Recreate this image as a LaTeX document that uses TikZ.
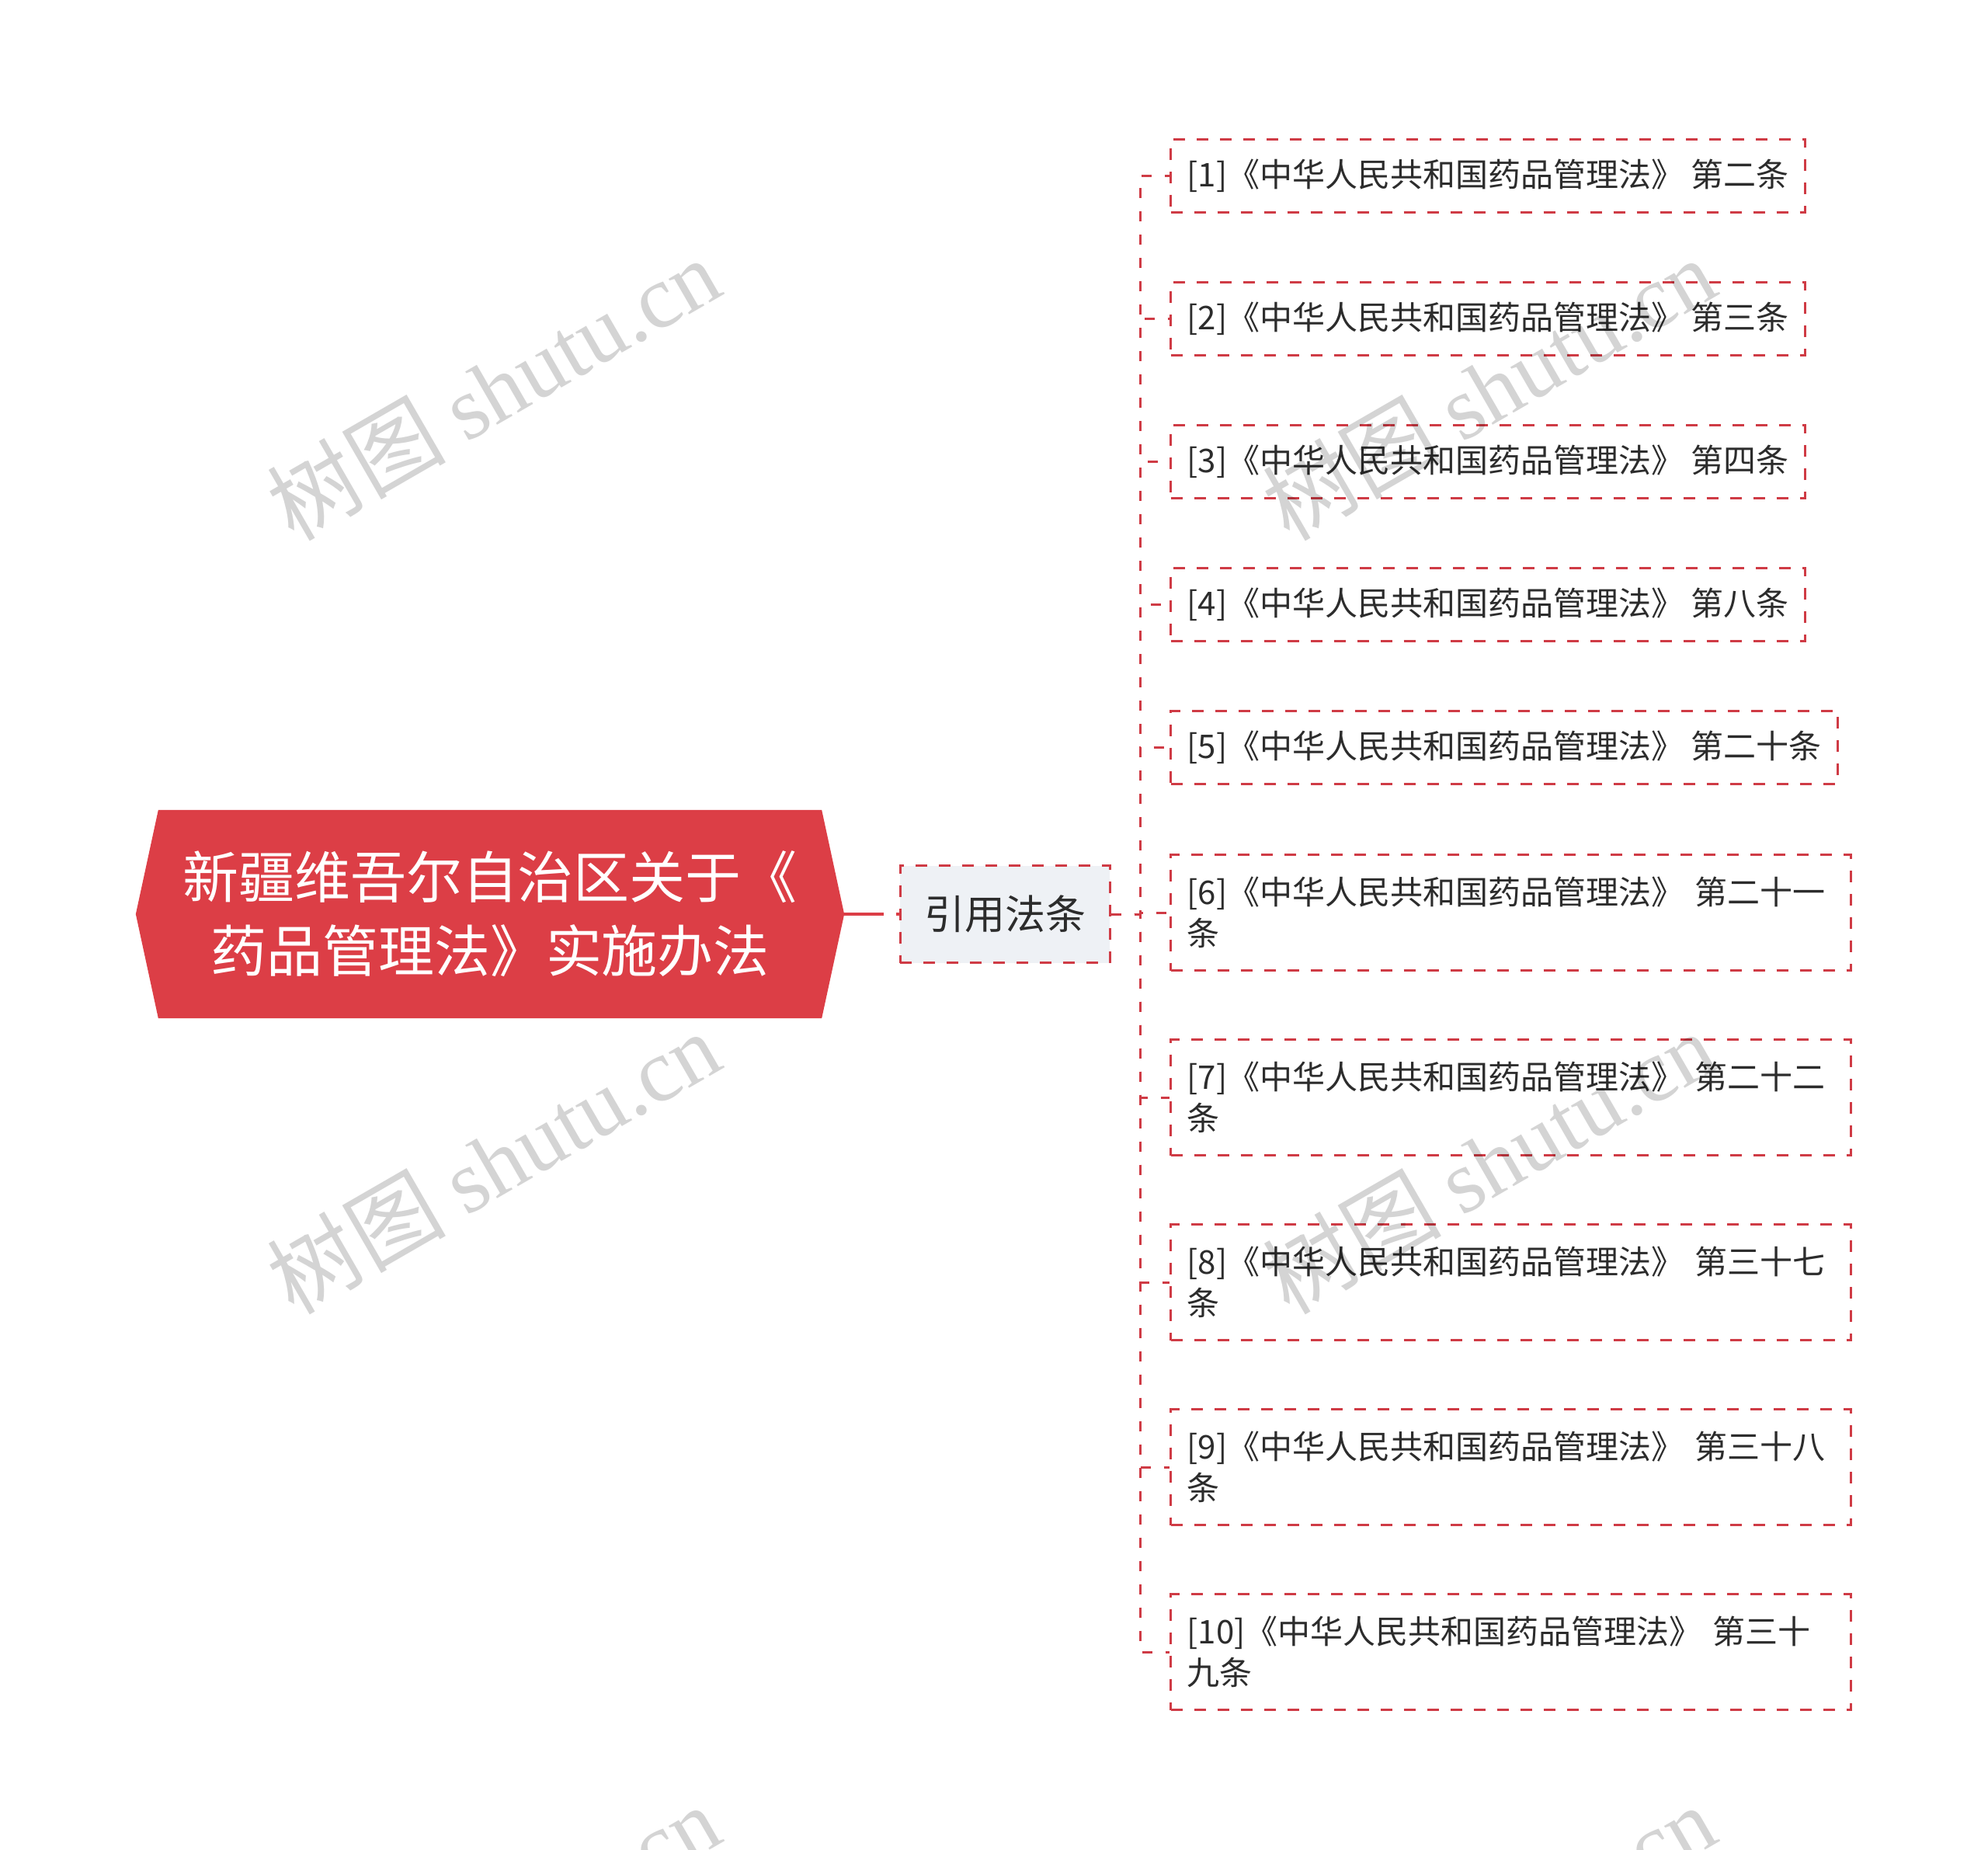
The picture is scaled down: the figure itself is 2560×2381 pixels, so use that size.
\documentclass[tikz,border=0pt]{standalone}
\usepackage{fontspec}
\setmainfont{Noto Sans CJK SC}
\newfontfamily\wmserif{Liberation Serif}
\usetikzlibrary{backgrounds}

\definecolor{rootred}{HTML}{DC3E46}
\definecolor{dashred}{HTML}{CF3B45}
\definecolor{citegray}{HTML}{EEF1F5}
\definecolor{inkdark}{HTML}{2C2C2C}

\tikzset{
  rootbox/.style={align=center, text=white, inner sep=0pt, minimum width=255.9pt, minimum height=80.1pt, font=\fontsize{21.6pt}{28.5pt}\selectfont},
  citebox/.style={draw=dashred, fill=citegray, line width=0.9pt, dash pattern=on 4.5pt off 4.5pt, text=inkdark, minimum width=81pt, minimum height=37.5pt, inner sep=0pt, font=\fontsize{15.6pt}{18pt}\selectfont},
  leaf/.style={draw=dashred, fill=white, line width=0.9pt, dash pattern=on 4.5pt off 4.5pt, text=inkdark, anchor=west, align=left, inner xsep=6.3pt, minimum height=28.2pt, font=\fontsize{12.6pt}{15.9pt}\selectfont},
  leaftwo/.style={leaf, text width=250.2pt, minimum height=44.7pt},
  link/.style={draw=dashred, line width=0.9pt, dash pattern=on 3.9pt off 5.1pt},
  rootlink/.style={draw=rootred, line width=1.2pt, dash pattern=on 24pt off 4.8pt on 10pt off 4.8pt},
  watermark/.style={rotate=30, text=black, text opacity=0.17, font=\fontsize{34.5pt}{40pt}\selectfont}
}

\begin{document}
\begin{tikzpicture}[x=0.3pt, y=-0.3pt]
    \useasboundingbox (0,0) rectangle (2560,2381);

    \node[rootbox] (root) at (631,1177) {新疆维吾尔自治区关于《\\药品管理法》实施办法};
    \begin{scope}[on background layer]
        \fill[rootred] (root.north west) -- (root.north east) -- ([xshift=8.7pt]root.east) -- (root.south east) -- (root.south west) -- ([xshift=-8.7pt]root.west) -- cycle;
    \end{scope}

    \node[citebox] (cite) at (1294,1177) {引用法条};
    \coordinate (bus) at (1468,1177);

    \node[leaf] (leaf1) at (1506,226) {[1]《中华人民共和国药品管理法》 第二条};
    \node[leaf] (leaf2) at (1506,410) {[2]《中华人民共和国药品管理法》 第三条};
    \node[leaf] (leaf3) at (1506,594) {[3]《中华人民共和国药品管理法》 第四条};
    \node[leaf] (leaf4) at (1506,778) {[4]《中华人民共和国药品管理法》 第八条};
    \node[leaf] (leaf5) at (1506,962) {[5]《中华人民共和国药品管理法》 第二十条};
    \node[leaftwo] (leaf6) at (1506,1175) {[6]《中华人民共和国药品管理法》 第二十一\\条};
    \node[leaftwo] (leaf7) at (1506,1413) {[7]《中华人民共和国药品管理法》 第二十二\\条};
    \node[leaftwo] (leaf8) at (1506,1651) {[8]《中华人民共和国药品管理法》 第三十七\\条};
    \node[leaftwo] (leaf9) at (1506,1889) {[9]《中华人民共和国药品管理法》 第三十八\\条};
    \node[leaftwo] (leaf10) at (1506,2127) {[10]《中华人民共和国药品管理法》 第三十\\九条};

    \draw[rootlink] (root.east) -- (cite.west);
    \foreach \i in {1,...,10}
        \draw[link] (cite.east) -- (bus) |- (leaf\i.west);

    % watermark
    \foreach \wx/\wy [count=\k] in {635/500, 1917/500, 635/1496, 1917/1496, 635/2492, 1917/2492}
        \node[watermark] (wm\k) at (\wx,\wy) {树图 {\wmserif shutu.cn}};
\end{tikzpicture}
\end{document}
